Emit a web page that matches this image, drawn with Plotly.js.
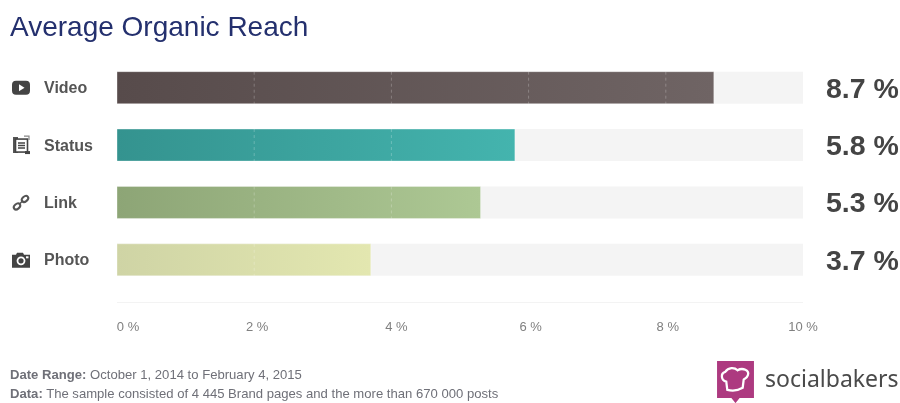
<!DOCTYPE html>
<html>
<head>
<meta charset="utf-8">
<script src="https://cdn.plot.ly/plotly-3.0.1.min.js"></script>
<style>
html,body{margin:0;padding:0;background:#fff;width:900px;height:403px;overflow:hidden}
#chart{width:900px;height:403px;filter:blur(0.45px)}
</style>
</head>
<body>
<div id="chart"></div>
<script>
const categories = ["Video", "Status", "Link", "Photo"];
const reach = [8.7, 5.8, 5.3, 3.7];
const reachLabels = ["8.7 %", "5.8 %", "5.3 %", "3.7 %"];
const fullScale = [10, 10, 10, 10];
const tickValues = [0, 2, 4, 6, 8, 10];
const tickLabels = ["0 %", "2 %", "4 %", "6 %", "8 %", "10 %"];
const gradientStart = ["#574b4b", "#34938f", "#8da576", "#cfd4a5"];
const gradientEnd = ["#6f6464", "#44b4ae", "#adc894", "#e3e7b0"];
const titleText = "Average Organic Reach";
const footerLines = [
  "<b>Date Range:</b> October 1, 2014 to February 4, 2015",
  "<b>Data:</b> The sample consisted of 4 445 Brand pages and the more than 670 000 posts"
];
const brand = "socialbakers";

function svgUri(body, w, h) {
  return "data:image/svg+xml;utf8," + encodeURIComponent(
    `<svg xmlns="http://www.w3.org/2000/svg" width="${w}" height="${h}" viewBox="0 0 ${w} ${h}">${body}</svg>`);
}
const iconColor = "#444";
const icons = [
  `<rect x="1" y="3" width="18" height="14" rx="4" fill="${iconColor}"/><path d="M8 6.5 L13.5 10 L8 13.5Z" fill="#fff"/>`,
  `<path d="M2 2h5v3H5v10h2v3H2z" fill="${iconColor}" opacity=".9"/><rect x="4.5" y="4" width="12" height="13" fill="#fff" stroke="${iconColor}" stroke-width="1.6"/><path d="M7 8h7M7 10.5h7M7 13h7" stroke="${iconColor}" stroke-width="1.4"/><path d="M14 16h5v3h-5z" fill="${iconColor}"/><path d="M13 1h5v4" fill="none" stroke="#888" stroke-width="1.2"/>`,
  `<g fill="none" stroke="#555" stroke-width="2"><ellipse cx="14" cy="6.5" rx="3.6" ry="2.5" transform="rotate(-40 14 6.5)"/><ellipse cx="6" cy="14" rx="3.6" ry="2.5" transform="rotate(-40 6 14)"/><path d="M8 12l4-4" stroke-width="1.6"/></g>`,
  `<path d="M1 5h4l1-2h6l1 2h6v13H1z" fill="${iconColor}"/><circle cx="10" cy="11" r="4.4" fill="#fff"/><circle cx="10" cy="11" r="2.6" fill="${iconColor}"/><rect x="15" y="6.5" width="2.5" height="2" fill="#fff"/>`
];
const logo = `<path d="M0 0H36V36H22L18 41L14 36H0Z" fill="#ad3a80"/>
<path d="M10 28 L9 20 C4 19 3 12 8 10.5 C11 6 17 6 20 9 C25 6 32 9 30 14 C29 17 27 17 26 18 L25 26 C20 29 14 29 10 28Z" fill="none" stroke="#fff" stroke-width="2.2"/>`;

const catCount = categories.length;
const barThickness = 0.558;

const trackTrace = {
  type: "bar", orientation: "h", y: categories, x: fullScale, width: barThickness,
  marker: {color: "#f4f4f4"}, hoverinfo: "skip", showlegend: false
};
const valueTrace = {
  type: "bar", orientation: "h", y: categories, x: reach, width: barThickness,
  marker: {color: gradientStart, line: {color: "rgba(255,255,255,0.35)", width: 1}},
  showlegend: false, hovertemplate: "%{y}: %{x} %<extra></extra>"
};

// dotted grid marks visible only on top of the coloured bars
const gridShapes = [];
categories.forEach((c, i) => {
  tickValues.forEach(t => {
    if (t > 0 && t < reach[i]) {
      gridShapes.push({
        type: "line", layer: "above", xref: "x", yref: "y",
        x0: t, x1: t, y0: i - barThickness / 2, y1: i + barThickness / 2,
        line: {color: "rgba(255,255,255,0.24)", width: 1, dash: "dot"}
      });
    }
  });
});

const plotLeft = 117, plotRight = 803, plotTop = 59.35, plotBottom = 302;
const W = 900, H = 403;
const plotW = plotRight - plotLeft, plotH = plotBottom - plotTop;
// paper coordinates are fractions of the plot area, not of the figure
const px = v => (v - plotLeft) / plotW, py = v => (plotBottom - v) / plotH;

const annotations = [];
categories.forEach((c, i) => {
  annotations.push({
    text: "<b>" + c + "</b>", x: px(42), xref: "paper", y: c, yref: "y",
    xanchor: "left", yanchor: "middle", showarrow: false,
    font: {family: "Liberation Sans, Arial, sans-serif", size: 16, color: "#555"}
  });
  annotations.push({
    text: "<b>" + reachLabels[i] + "</b>", x: px(901), xref: "paper", y: c, yref: "y",
    xanchor: "right", yanchor: "middle", showarrow: false,
    font: {family: "Liberation Sans, Arial, sans-serif", size: 28.5, color: "#444"}
  });
});
footerLines.forEach((t, i) => {
  annotations.push({
    text: t, x: px(8), xref: "paper", y: py(374 + i * 19.5), yref: "paper",
    xanchor: "left", yanchor: "middle", showarrow: false,
    font: {family: "Liberation Sans, Arial, sans-serif", size: 13.1, color: "#6f7078"}
  });
});
annotations.push({
  text: brand, x: px(901), xref: "paper", y: py(378), yref: "paper",
  xanchor: "right", yanchor: "middle", showarrow: false,
  font: {family: "Noto Sans, Open Sans, sans-serif", size: 23, color: "#4a4a4a"}
});

const images = icons.map((svg, i) => ({
  source: svgUri(svg, 20, 20), xref: "paper", yref: "y",
  x: px(11), y: categories[i], sizex: 20 / plotW, sizey: 0.35,
  xanchor: "left", yanchor: "middle", sizing: "contain", layer: "above"
}));
images.push({
  source: svgUri(logo, 36, 41), xref: "paper", yref: "paper",
  x: px(717), y: py(361), sizex: 37 / plotW, sizey: 42 / plotH,
  xanchor: "left", yanchor: "top", sizing: "contain", layer: "above"
});

const layout = {
  width: W, height: H,
  paper_bgcolor: "#fff", plot_bgcolor: "#fff",
  barmode: "overlay",
  margin: {l: plotLeft, r: W - plotRight, t: plotTop, b: H - plotBottom, pad: 0},
  title: {
    text: titleText, x: 10 / W, xref: "container", xanchor: "left",
    y: 1 - 26 / H, yref: "container", yanchor: "middle",
    font: {family: "Liberation Sans, Arial, sans-serif", size: 28, color: "#24306e"}
  },
  xaxis: {
    range: [0, 10], tickmode: "array", tickvals: tickValues, ticktext: tickLabels,
    showgrid: false, zeroline: false, showline: true, linecolor: "#f3f3f3", linewidth: 1,
    ticks: "", ticklabelstandoff: 12,
    tickfont: {family: "Liberation Sans, Arial, sans-serif", size: 13, color: "#808080"},
    fixedrange: true
  },
  yaxis: {
    type: "category", categoryorder: "array", categoryarray: categories,
    range: [catCount - 1 + 0.735, -0.5],
    showticklabels: false, showgrid: false, zeroline: false, showline: false, ticks: "",
    fixedrange: true
  },
  shapes: gridShapes, annotations, images, showlegend: false
};

Plotly.newPlot("chart", [trackTrace, valueTrace], layout, {displayModeBar: false, staticPlot: true}).then(gd => {
  const svg = gd.querySelector(".main-svg");
  const ns = "http://www.w3.org/2000/svg";
  const defs = svg.querySelector("defs");
  categories.forEach((c, i) => {
    const g = document.createElementNS(ns, "linearGradient");
    g.setAttribute("id", "barGrad" + i);
    g.setAttribute("x1", "0"); g.setAttribute("x2", "1");
    g.setAttribute("y1", "0"); g.setAttribute("y2", "0");
    [[0, gradientStart[i]], [1, gradientEnd[i]]].forEach(([o, col]) => {
      const s = document.createElementNS(ns, "stop");
      s.setAttribute("offset", o);
      s.setAttribute("stop-color", col);
      g.appendChild(s);
    });
    defs.appendChild(g);
  });
  const traces = gd.querySelectorAll(".barlayer .trace");
  traces[1].querySelectorAll(".point path").forEach((p, i) => {
    p.style.fill = "url(#barGrad" + i + ")";
  });
  // tick labels sit slightly right of their tick in the reference
  const labelNudge = [11, 3, 5, 2, 2, 0];
  gd.querySelectorAll(".xtick text").forEach((t, i) => {
    t.setAttribute("transform", (t.getAttribute("transform") || "") + " translate(" + labelNudge[i] + ",0)");
  });
});
</script>
</body>
</html>
